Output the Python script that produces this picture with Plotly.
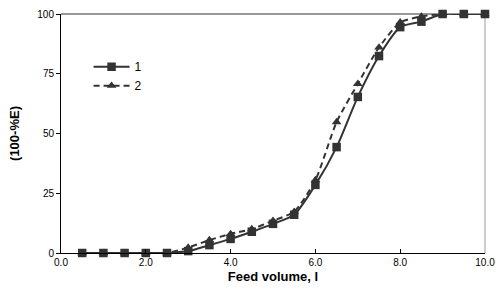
import plotly.graph_objects as go

feed_volume = [0.5, 1.0, 1.5, 2.0, 2.5, 3.0, 3.5, 4.0, 4.5, 5.0, 5.5, 6.0, 6.5, 7.0, 7.5, 8.0, 8.5, 9.0, 9.5, 10.0]
series_1 = [0, 0, 0, 0, 0, 0.8, 3.3, 5.9, 8.9, 12.2, 16.0, 28.5, 44.3, 65.3, 82.4, 94.5, 96.8, 100, 100, 100]
series_2 = [0, 0, 0, 0, 0, 2.3, 5.4, 8.0, 10.0, 13.5, 17.3, 30.5, 54.8, 70.8, 86.0, 96.5, 99.0, 100, 100, 100]
series_names = ["1", "2"]
x_ticks = [0, 2, 4, 6, 8, 10]
x_tick_labels = ["0.0", "2.0", "4.0", "6.0", "8.0", "10.0"]
y_ticks = [0, 25, 50, 75, 100]

dark = "#333333"
fig = go.Figure()
fig.add_trace(go.Scatter(
    x=feed_volume, y=series_1, name=series_names[0], mode="lines+markers",
    line=dict(color=dark, width=2, shape="spline", smoothing=0.6),
    marker=dict(symbol="square", size=8.5, color=dark),
    cliponaxis=False,
))
fig.add_trace(go.Scatter(
    x=feed_volume, y=series_2, name=series_names[1], mode="lines+markers",
    line=dict(color=dark, width=2, dash="6px,4px", shape="spline", smoothing=0.6),
    marker=dict(symbol="triangle-up", size=8.5, color=dark),
    cliponaxis=False,
))

font_family = "Liberation Sans, Arial, sans-serif"
fig.update_layout(
    width=500, height=299,
    margin=dict(l=61, r=15, t=14, b=46, autoexpand=False),
    paper_bgcolor="white", plot_bgcolor="white",
    font=dict(family=font_family, size=10, color="black"),
    showlegend=True,
    legend=dict(x=0.065, y=0.84, xanchor="left", yanchor="top",
                bgcolor="rgba(0,0,0,0)", font=dict(size=12),
                itemwidth=36, tracegroupgap=0),
    xaxis=dict(range=[0, 10], tickvals=x_ticks, ticktext=x_tick_labels,
               showgrid=False, zeroline=False, showline=True, linecolor="black",
               linewidth=1, ticks="inside", ticklen=4, tickcolor="black",
               automargin=False,
               title=dict(text="<b>Feed volume, l</b>", font=dict(size=13), standoff=4)),
    yaxis=dict(range=[0, 100], tickvals=y_ticks, showgrid=False, zeroline=False,
               showline=True, linecolor="black", linewidth=1, ticks="outside",
               ticklen=4, tickcolor="black", automargin=False,
               title=dict(text="<b>(100-%E)</b>", font=dict(size=13), standoff=14)),
    shapes=[
        dict(type="line", xref="paper", yref="paper", x0=0, x1=1, y0=1, y1=1,
             line=dict(color="#999999", width=2), layer="below"),
        dict(type="line", xref="paper", yref="paper", x0=1, x1=1, y0=0, y1=1,
             line=dict(color="#999999", width=1), layer="below"),
    ],
)

fig.write_html("out.html", config={"displayModeBar": False},
               post_script="document.body.style.margin='0px';")
